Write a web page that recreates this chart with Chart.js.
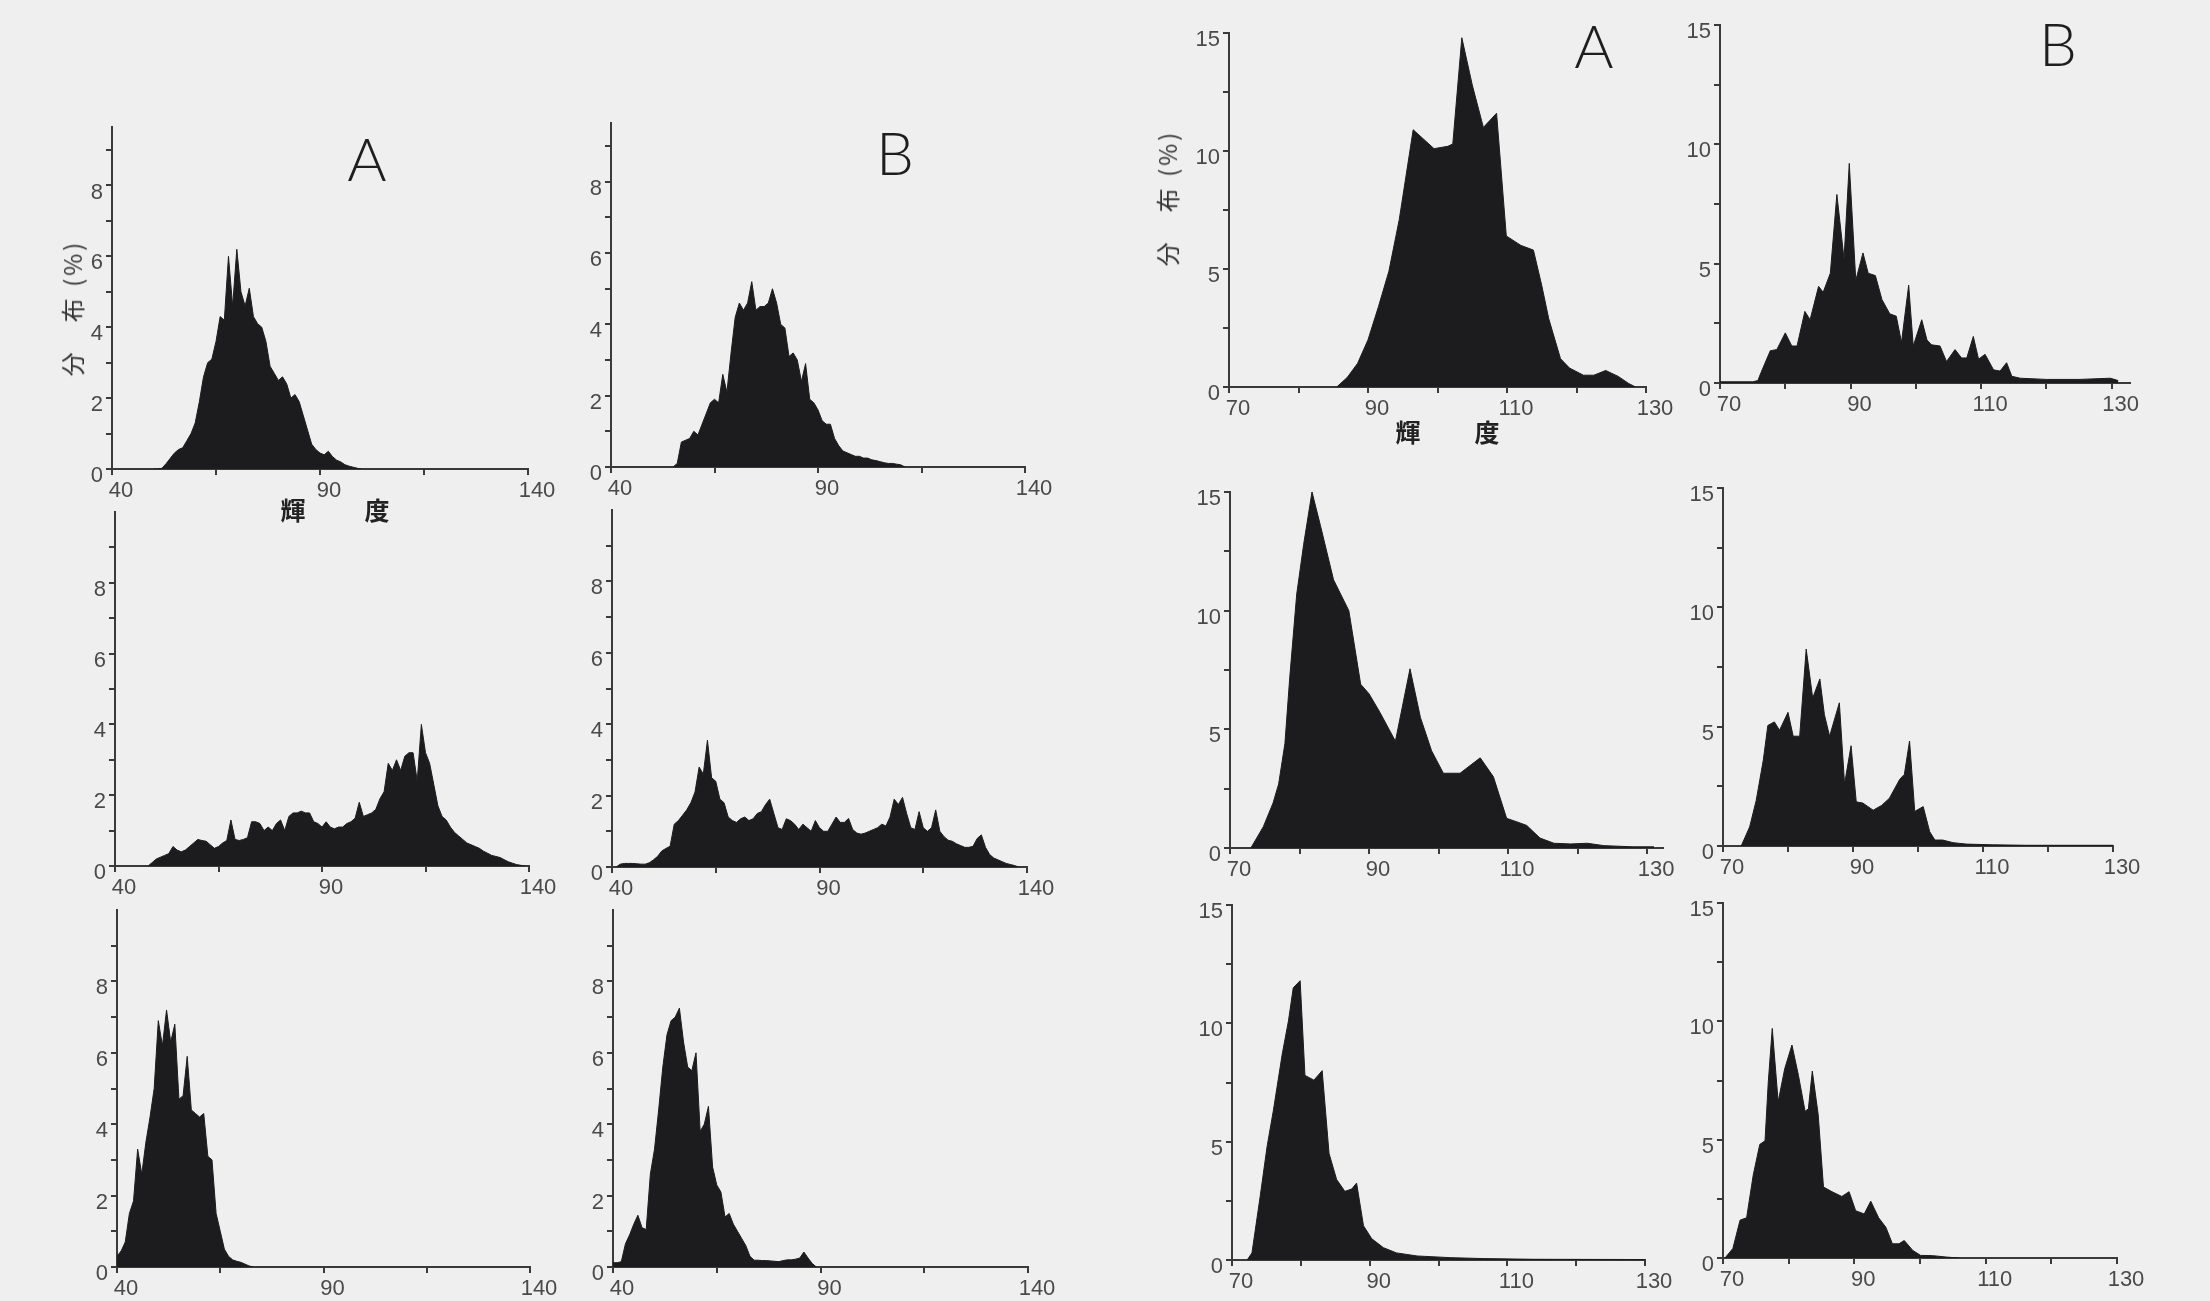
<!DOCTYPE html>
<html lang="ja">
<head>
<meta charset="utf-8">
<title>輝度分布</title>
<script src="https://cdn.jsdelivr.net/npm/chart.js@4.4.0/dist/chart.umd.min.js"></script>
<style>
  html, body { margin: 0; padding: 0; }
  body { width: 2210px; height: 1301px; background: #efeff0; position: relative; overflow: hidden; }
  canvas { position: absolute; }
  .tag { position: absolute; font-family: "Lato", "Liberation Sans", sans-serif; font-weight: 300; font-size: 60px; color: #1e1e1e; line-height: 1; transform: translate(-50%, -50%); }
  .ylab { position: absolute; font-family: "Noto Sans CJK JP", sans-serif; font-size: 24px; letter-spacing: 3px; color: #333; white-space: nowrap; line-height: 1; transform: translate(-50%, -50%) rotate(-90deg); }
  .xlab { position: absolute; font-family: "Noto Sans CJK JP", sans-serif; font-weight: 700; font-size: 25px; color: #222; line-height: 1; transform: translate(-50%, -50%); }
</style>
</head>
<body>
<script>
// ---- left group: luminance 40-140, one value per level, starting at startXX ----
const startL1 = 50;
const pctL1 = [0, 0, 0.02, 0.15, 0.3, 0.45, 0.55, 0.6, 0.8, 1.0, 1.3, 1.9, 2.6, 3.0, 3.1, 3.6, 4.3, 4.2, 6.0, 4.6,
  6.2, 5.0, 4.6, 5.1, 4.3, 4.1, 4.0, 3.6, 2.9, 2.7, 2.5, 2.6, 2.4, 2.0, 2.1, 1.9, 1.5, 1.1, 0.7, 0.55,
  0.45, 0.4, 0.5, 0.35, 0.25, 0.2, 0.12, 0.08, 0.05, 0.02, 0];

const startR1 = 55;
const pctR1 = [0, 0.1, 0.7, 0.75, 0.8, 1.0, 0.9, 1.2, 1.5, 1.8, 1.9, 1.8, 2.6, 2.1, 3.2, 4.2, 4.6, 4.4, 4.6, 5.2,
  4.4, 4.5, 4.5, 4.6, 5.0, 4.6, 4.0, 3.9, 3.1, 3.2, 3.0, 2.4, 2.9, 1.9, 1.8, 1.6, 1.3, 1.2, 1.2, 0.8,
  0.6, 0.45, 0.4, 0.35, 0.3, 0.3, 0.25, 0.25, 0.2, 0.18, 0.15, 0.12, 0.1, 0.1, 0.08, 0.06, 0];

const startL2 = 48;
const pctL2 = [0, 0.1, 0.2, 0.25, 0.3, 0.35, 0.55, 0.45, 0.4, 0.45, 0.55, 0.65, 0.75, 0.72, 0.7, 0.6, 0.5, 0.55, 0.65, 0.72,
  1.3, 0.75, 0.72, 0.75, 0.8, 1.25, 1.25, 1.2, 1.0, 1.1, 1.0, 1.2, 1.3, 1.0, 1.4, 1.5, 1.5, 1.55, 1.5, 1.5,
  1.25, 1.2, 1.1, 1.25, 1.1, 1.05, 1.1, 1.1, 1.2, 1.25, 1.35, 1.8, 1.4, 1.45, 1.5, 1.6, 1.9, 2.1, 2.9, 2.7,
  3.0, 2.7, 3.1, 3.2, 3.2, 2.4, 4.0, 3.2, 2.9, 2.3, 1.7, 1.4, 1.3, 1.1, 0.95, 0.85, 0.75, 0.65, 0.6, 0.55,
  0.5, 0.42, 0.36, 0.3, 0.27, 0.24, 0.18, 0.12, 0.08, 0.04, 0.02, 0];

const startR2 = 41;
const pctR2 = [0, 0.08, 0.1, 0.1, 0.1, 0.09, 0.08, 0.08, 0.12, 0.2, 0.3, 0.45, 0.52, 0.58, 1.2, 1.3, 1.45, 1.6, 1.8, 2.1,
  2.8, 2.6, 3.55, 2.5, 2.4, 1.9, 1.8, 1.4, 1.3, 1.25, 1.35, 1.4, 1.3, 1.35, 1.5, 1.55, 1.75, 1.9, 1.5, 1.1,
  1.05, 1.35, 1.3, 1.2, 1.05, 1.2, 1.1, 1.0, 1.3, 1.1, 1.0, 1.0, 1.2, 1.4, 1.25, 1.25, 1.36, 1.05, 0.95, 0.92,
  0.95, 1.0, 1.05, 1.1, 1.2, 1.15, 1.4, 1.9, 1.75, 1.95, 1.5, 1.1, 1.05, 1.55, 1.1, 1.0, 1.1, 1.6, 1.0, 0.85,
  0.75, 0.72, 0.65, 0.6, 0.55, 0.55, 0.58, 0.8, 0.9, 0.55, 0.35, 0.25, 0.2, 0.15, 0.1, 0.07, 0.04, 0];

const startL3 = 40;
const pctL3 = [0.3, 0.45, 0.7, 1.5, 1.85, 3.3, 2.6, 3.5, 4.2, 5.0, 6.9, 6.2, 7.2, 6.3, 6.8, 4.7, 4.8, 5.9, 4.4, 4.3,
  4.2, 4.3, 3.1, 3.0, 1.5, 1.0, 0.5, 0.3, 0.2, 0.16, 0.13, 0.08, 0.03, 0];

const startR3 = 40;
const pctR3 = [0.12, 0.12, 0.15, 0.65, 0.9, 1.2, 1.45, 1.1, 1.05, 2.6, 3.3, 4.4, 5.6, 6.5, 6.9, 7.0, 7.25, 6.3, 5.6, 5.5,
  6.0, 3.8, 4.0, 4.5, 2.8, 2.3, 2.1, 1.4, 1.5, 1.2, 1.0, 0.8, 0.6, 0.3, 0.19, 0.19, 0.18, 0.18, 0.17, 0.16,
  0.15, 0.18, 0.2, 0.2, 0.22, 0.25, 0.42, 0.25, 0.1, 0];

// ---- right group: luminance 70-130 ----
const lumA1 = [85.5, 87, 88.5, 90, 91.5, 93, 94.5, 96.5, 99.5, 101.5, 102.2, 103.5, 105, 106.6, 108.5, 109.9, 112, 113.8, 115, 116,
  117.7, 119, 121, 122.5, 124.2, 126, 127.5, 128.5];
const pctA1 = [0, 0.4, 1.0, 2.0, 3.4, 4.9, 7.1, 10.9, 10.1, 10.2, 10.3, 14.8, 12.8, 11.0, 11.6, 6.4, 6.0, 5.8, 4.3, 2.9,
  1.2, 0.8, 0.5, 0.5, 0.7, 0.45, 0.15, 0];

const lumB1 = [70, 75, 75.8, 76.3, 77.7, 78.7, 80, 81, 81.8, 83, 83.8, 85.1, 85.8, 86.9, 87.9, 89, 89.8, 90.8, 91.9, 92.7,
  93.8, 94.8, 96, 97, 97.8, 98.9, 99.6, 100.9, 101.7, 102.4, 103.7, 104.7, 106, 107, 107.8, 108.8, 109.6, 110.6, 111.9, 112.9,
  113.9, 114.7, 116, 120, 125, 129.8, 131];
const pctB1 = [0.05, 0.05, 0.1, 0.45, 1.35, 1.4, 2.1, 1.55, 1.55, 3.0, 2.65, 4.05, 3.8, 4.6, 7.9, 5.2, 9.2, 4.3, 5.45, 4.6,
  4.5, 3.5, 2.9, 2.8, 1.7, 4.1, 1.55, 2.65, 1.8, 1.6, 1.55, 0.9, 1.4, 1.05, 1.05, 1.95, 1.0, 1.2, 0.55, 0.5,
  0.85, 0.28, 0.2, 0.15, 0.15, 0.2, 0.1];

const lumA2 = [73, 74.8, 76.2, 77, 77.9, 78.6, 79.6, 80.6, 81.8, 83, 84.9, 87.1, 88.8, 90, 91.6, 93.8, 95.9, 97.4, 99, 100.7,
  103.1, 106, 107.9, 109.8, 111.3, 112.7, 114.6, 116.6, 119, 121.4, 123.8, 128, 131];
const pctA2 = [0, 0.9, 1.9, 2.7, 4.4, 7.2, 10.7, 12.8, 15.0, 13.6, 11.3, 10.0, 6.9, 6.5, 5.7, 4.5, 7.55, 5.5, 4.1, 3.15,
  3.15, 3.8, 3.0, 1.25, 1.1, 0.95, 0.42, 0.2, 0.17, 0.2, 0.1, 0.05, 0.05];

const lumB2 = [72.8, 74.1, 75.1, 76.2, 76.9, 77.9, 78.7, 80, 80.8, 81.8, 82.8, 83.8, 84.9, 85.6, 86.4, 87.9, 88.7, 89.7, 90.5, 91.5,
  93.1, 94.4, 95.6, 97.2, 97.9, 98.7, 99.5, 100.8, 101.8, 102.6, 103.8, 105.4, 107.4, 111.5, 116.7, 130];
const pctB2 = [0, 0.8, 1.9, 3.6, 5.05, 5.2, 4.85, 5.6, 4.6, 4.6, 8.25, 6.2, 7.0, 5.5, 4.6, 6.0, 2.6, 4.2, 1.85, 1.8,
  1.5, 1.7, 2.0, 2.8, 3.0, 4.4, 1.45, 1.65, 0.6, 0.25, 0.25, 0.14, 0.08, 0.05, 0.03, 0.03];

const lumA3 = [72.2, 72.9, 74.1, 75.1, 76, 77.3, 78.2, 78.9, 79.9, 80.6, 81.9, 83.1, 84.1, 85.2, 86.4, 87.4, 88.1, 89.1, 90.3, 92,
  93.9, 96.9, 101.7, 106.5, 113.8, 130];
const pctA3 = [0, 0.3, 2.7, 4.8, 6.3, 8.7, 10.1, 11.5, 11.8, 7.8, 7.6, 8.0, 4.5, 3.4, 2.9, 3.0, 3.25, 1.45, 0.9, 0.52,
  0.3, 0.17, 0.1, 0.06, 0.03, 0.02];

const lumB3 = [70.3, 71.5, 72.6, 73.6, 74.6, 75.6, 76.4, 76.9, 77.5, 78.4, 79.4, 80.5, 81.5, 82.5, 83, 83.6, 84.5, 85.3, 86.6, 88.1,
  89.2, 90.2, 91.5, 92.5, 93.7, 94.8, 95.8, 96.8, 97.6, 98.9, 100.1, 101.9, 104, 106];
const pctB3 = [0, 0.4, 1.6, 1.7, 3.5, 4.8, 4.95, 7.45, 9.7, 6.6, 8.0, 9.0, 7.7, 6.2, 6.3, 7.9, 6.05, 3.0, 2.8, 2.6,
  2.8, 2.0, 1.86, 2.4, 1.7, 1.3, 0.6, 0.6, 0.74, 0.32, 0.11, 0.1, 0.04, 0];

// ---- ticks ----
const leftXTicks = [40, 65, 90, 115, 140];
const leftXLabels = [40, 90, 140];
const leftYTicks = [0, 1, 2, 3, 4, 5, 6, 7, 8, 9];
const leftYLabels = [0, 2, 4, 6, 8];
const rightXTicks = [70, 80, 90, 100, 110, 120, 130];
const rightXLabels = [70, 90, 110, 130];
const rightYTicks = [0, 2.5, 5, 7.5, 10, 12.5, 15];
const rightYLabels = [0, 5, 10, 15];

const levels = (start, values) => values.map((_, i) => start + i);

const panels = [
  { lum: levels(startL1, pctL1), pct: pctL1, g: "left", left: 112, right: 528, top: 127, bottom: 469, xMin: 40, xMax: 140, yMax: 9.65 },
  { lum: levels(startR1, pctR1), pct: pctR1, g: "left", left: 611, right: 1025, top: 123, bottom: 467, xMin: 40, xMax: 140, yMax: 9.65 },
  { lum: levels(startL2, pctL2), pct: pctL2, g: "left", left: 115, right: 529, top: 512, bottom: 866, xMin: 40, xMax: 140, yMax: 10 },
  { lum: levels(startR2, pctR2), pct: pctR2, g: "left", left: 612, right: 1027, top: 510, bottom: 867, xMin: 40, xMax: 140, yMax: 10 },
  { lum: levels(startL3, pctL3), pct: pctL3, g: "left", left: 117, right: 530, top: 910, bottom: 1267, xMin: 40, xMax: 140, yMax: 10 },
  { lum: levels(startR3, pctR3), pct: pctR3, g: "left", left: 613, right: 1028, top: 910, bottom: 1267, xMin: 40, xMax: 140, yMax: 10 },
  { lum: lumA1, pct: pctA1, g: "right", left: 1229, right: 1646, top: 33, bottom: 387, xMin: 70, xMax: 130, yMax: 15 },
  { lum: lumB1, pct: pctB1, g: "right", left: 1720, right: 2130, top: 25, bottom: 383, xMin: 70, xMax: 132.8, yMax: 15 },
  { lum: lumA2, pct: pctA2, g: "right", left: 1230, right: 1663, top: 492, bottom: 848, xMin: 70, xMax: 132.3, yMax: 15 },
  { lum: lumB2, pct: pctB2, g: "right", left: 1723, right: 2113, top: 488, bottom: 846, xMin: 70, xMax: 130, yMax: 15 },
  { lum: lumA3, pct: pctA3, g: "right", left: 1232, right: 1645, top: 905, bottom: 1260, xMin: 70, xMax: 130, yMax: 15 },
  { lum: lumB3, pct: pctB3, g: "right", left: 1723, right: 2117, top: 903, bottom: 1258, xMin: 70, xMax: 130, yMax: 15 }
];

const INK = "#1c1b1d";
const AXIS = "#3a3a3a";
const tickFont = { family: "'Liberation Sans', Arial, sans-serif", size: 22 };

function makePanel(p) {
  const padL = 10, padT = 20, padR = 40, padB = 10, axisW = 60, axisH = 50;
  const canvas = document.createElement("canvas");
  canvas.width = p.right - p.left + axisW + padL + padR;
  canvas.height = p.bottom - p.top + axisH + padT + padB;
  canvas.style.left = (p.left - axisW - padL) + "px";
  canvas.style.top = (p.top - padT) + "px";
  document.body.appendChild(canvas);

  const xTicks = p.g === "left" ? leftXTicks : rightXTicks;
  const xLabels = p.g === "left" ? leftXLabels : rightXLabels;
  const yTicks = p.g === "left" ? leftYTicks : rightYTicks;
  const yLabels = p.g === "left" ? leftYLabels : rightYLabels;

  new Chart(canvas.getContext("2d"), {
    type: "line",
    data: {
      datasets: [{
        data: p.lum.map((x, i) => ({ x: x, y: p.pct[i] })),
        fill: "origin",
        backgroundColor: INK,
        borderColor: INK,
        borderWidth: 1,
        pointRadius: 0,
        tension: 0
      }]
    },
    options: {
      responsive: false,
      animation: false,
      layout: { padding: { left: padL, top: padT, right: padR, bottom: padB } },
      plugins: { legend: { display: false }, tooltip: { enabled: false } },
      scales: {
        x: {
          type: "linear",
          min: p.xMin,
          max: p.xMax,
          afterBuildTicks: s => { s.ticks = xTicks.map(v => ({ value: v })); },
          afterFit: s => { s.height = axisH; },
          ticks: {
            autoSkip: false,
            maxRotation: 0,
            padding: 3,
            labelOffset: 9,
            color: "#4a4a4a",
            font: tickFont,
            callback: v => xLabels.includes(v) ? String(v) : ""
          },
          grid: { drawOnChartArea: false, drawTicks: true, tickLength: 6, color: AXIS, lineWidth: 2 },
          border: { color: AXIS, width: 2 }
        },
        y: {
          type: "linear",
          min: 0,
          max: p.yMax,
          afterBuildTicks: s => { s.ticks = yTicks.map(v => ({ value: v })); },
          afterFit: s => { s.width = axisW; },
          ticks: {
            autoSkip: false,
            padding: 3,
            labelOffset: 7,
            color: "#4a4a4a",
            font: tickFont,
            callback: v => yLabels.includes(v) ? String(v) : ""
          },
          grid: { drawOnChartArea: false, drawTicks: true, tickLength: 6, color: AXIS, lineWidth: 2 },
          border: { color: AXIS, width: 2 }
        }
      }
    }
  });
}

function addText(cls, text, x, y) {
  const el = document.createElement("div");
  el.className = cls;
  el.textContent = text;
  el.style.left = x + "px";
  el.style.top = y + "px";
  document.body.appendChild(el);
}

panels.forEach(makePanel);

// panel letters
addText("tag", "A", 367, 158);
addText("tag", "B", 895, 152);
addText("tag", "A", 1594, 45);
addText("tag", "B", 2058, 43);

// axis titles
addText("ylab", "分　布 (%)", 72, 308);
addText("ylab", "分　布 (%)", 1167, 198);
addText("xlab", "輝", 293, 509);
addText("xlab", "度", 377, 509);
addText("xlab", "輝", 1408, 431);
addText("xlab", "度", 1487, 431);
</script>
</body>
</html>
